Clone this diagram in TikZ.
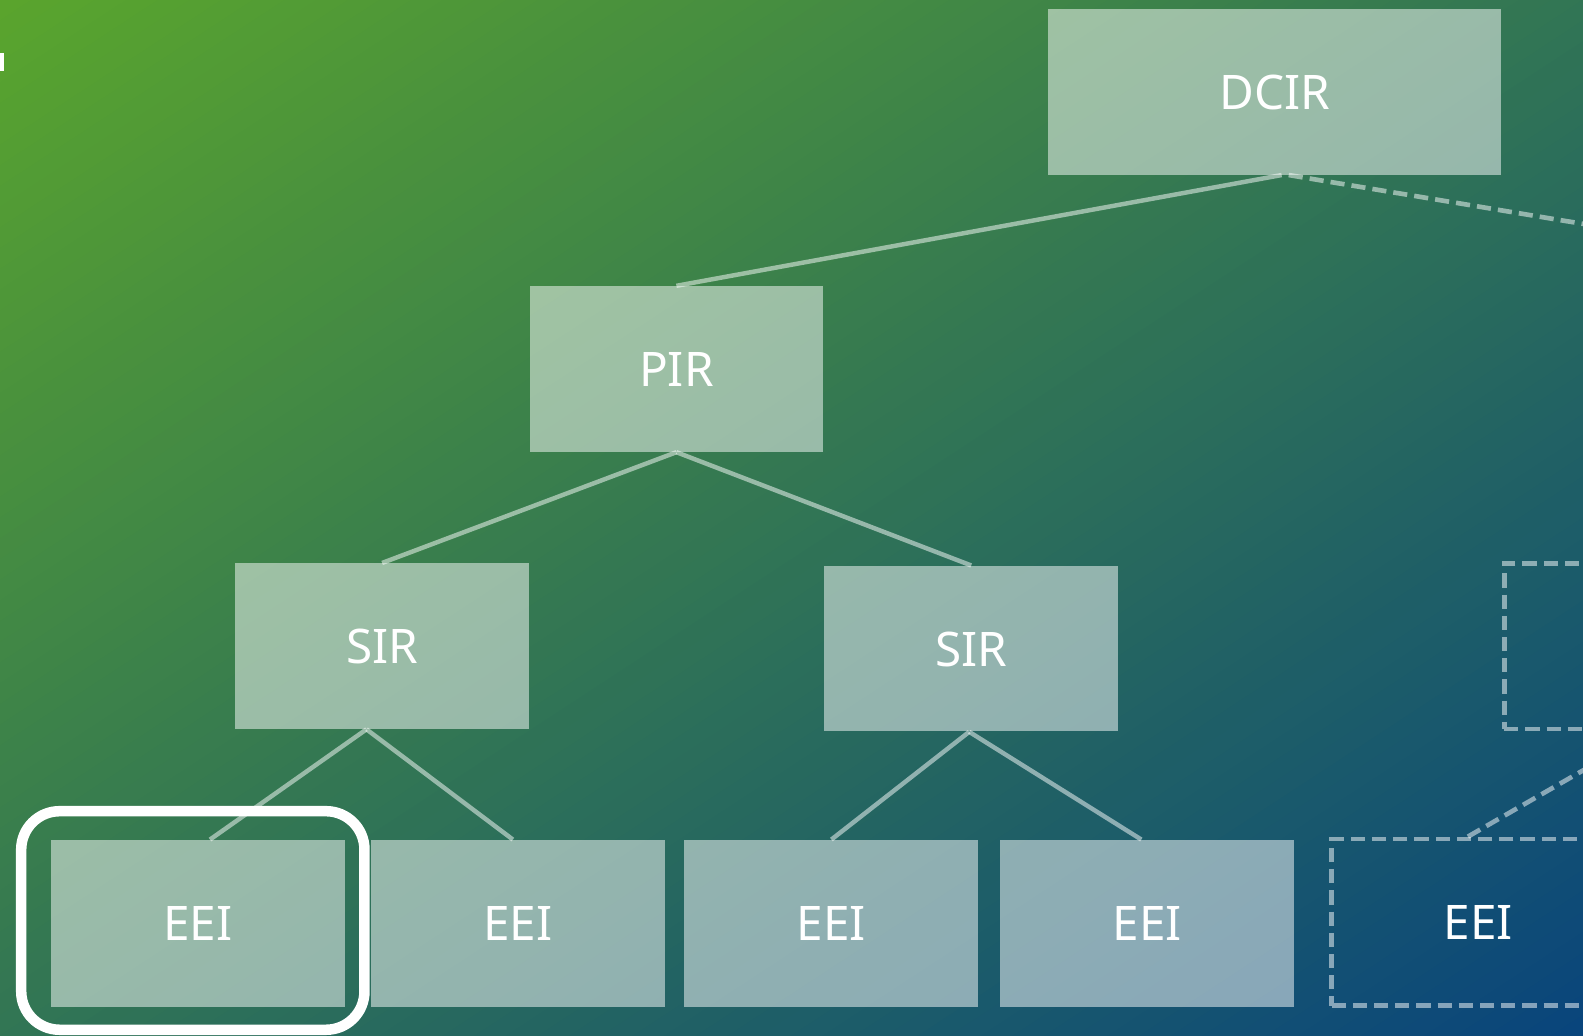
\documentclass[tikz,border=0pt]{standalone}
\usepackage{fontspec}
\setmainfont{Noto Sans}
\newcommand\lblfont{\fontsize{23.6}{28}\selectfont}
\definecolor{bgA}{HTML}{5AA52D}
\definecolor{bgB}{HTML}{09457C}
\tikzset{
  box/.style={rectangle, inner sep=0pt, fill=white, fill opacity=0.5, text opacity=1,
    text=white, minimum width=145.5pt, minimum height=82pt, font=\lblfont,
    text height=17.35pt, text depth=0pt},
  ghost/.style={rectangle, inner sep=0pt, draw=white, draw opacity=0.5, line width=2.3pt,
    dash pattern=on 7pt off 3.5pt, minimum width=145.5pt, minimum height=82.5pt,
    text=white, font=\lblfont, text height=17.35pt, text depth=0pt},
  link/.style={draw=white, draw opacity=0.5, line width=2.2pt},
  dlink/.style={link, line width=2.3pt, dash pattern=on 7pt off 3.5pt},
  ring/.style={draw=white, line width=5.2pt, rounded corners=19pt},
}
\begin{document}
\begin{tikzpicture}[x=0.5pt, y=-0.5pt]
\useasboundingbox (0,0) rectangle (1568,1026);
\clip (0,0) rectangle (1568,1026);
% diagonal background gradient, isolines through the top-right and bottom-left corners
\foreach \i in {0,...,99}{
  \pgfmathsetmacro\ca{2*\i/100}
  \pgfmathsetmacro\cb{2*(\i+1.3)/100}
  \pgfmathsetmacro\p{\i+0.5}
  \fill[bgB!\p!bgA]
    ({(\ca-2)*1568},{2*1026}) -- ({(\ca+2)*1568},{-2*1026}) --
    ({(\cb+2)*1568},{-2*1026}) -- ({(\cb-2)*1568},{2*1026}) -- cycle;
}
\fill[white] (0,52.5) rectangle (4.3,70);

\node[box, minimum width=224.5pt] (dcir) at (1262.5,91) {DCIR};
\node[box] (pir) at (670,365.5) {PIR};
\node[box] (sirL) at (378.5,640) {SIR};
\node[box] (sirR) at (962,642.5) {SIR};
\node[box, minimum height=82.5pt] (eeiA) at (196,914.5) {EEI};
\node[box, minimum height=82.5pt] (eeiB) at (513,914.5) {EEI};
\node[box, minimum height=82.5pt] (eeiC) at (823.5,914.5) {EEI};
\node[box, minimum height=82.5pt] (eeiD) at (1136.5,914.5) {EEI};
\node[ghost] (eeiE) at (1464.5,913.5) {EEI};
\node[ghost, minimum height=82pt] (ghostS) at (1635.5,640) {};
\coordinate (offR) at (1937,283);

\draw[link] ([xshift=3.5pt]dcir.south) -- (pir.north);
\draw[dlink] ([xshift=7pt]dcir.south) -- (offR);
\draw[link] (pir.south) -- (sirL.north);
\draw[link] (pir.south) -- (sirR.north);
\draw[link] ([xshift=-7.75pt]sirL.south) -- ([xshift=6pt]eeiA.north);
\draw[link] ([xshift=-7.75pt]sirL.south) -- ([xshift=-2.5pt]eeiB.north);
\draw[link] ([xshift=-1pt]sirR.south) -- (eeiC.north);
\draw[link] ([xshift=-1pt]sirR.south) -- ([xshift=-3pt]eeiD.north);
\draw[dlink] ([xshift=-5.25pt]eeiE.north) -- (ghostS.south);

\draw[ring] (21,803.5) rectangle (361,1020);
\end{tikzpicture}
\end{document}
